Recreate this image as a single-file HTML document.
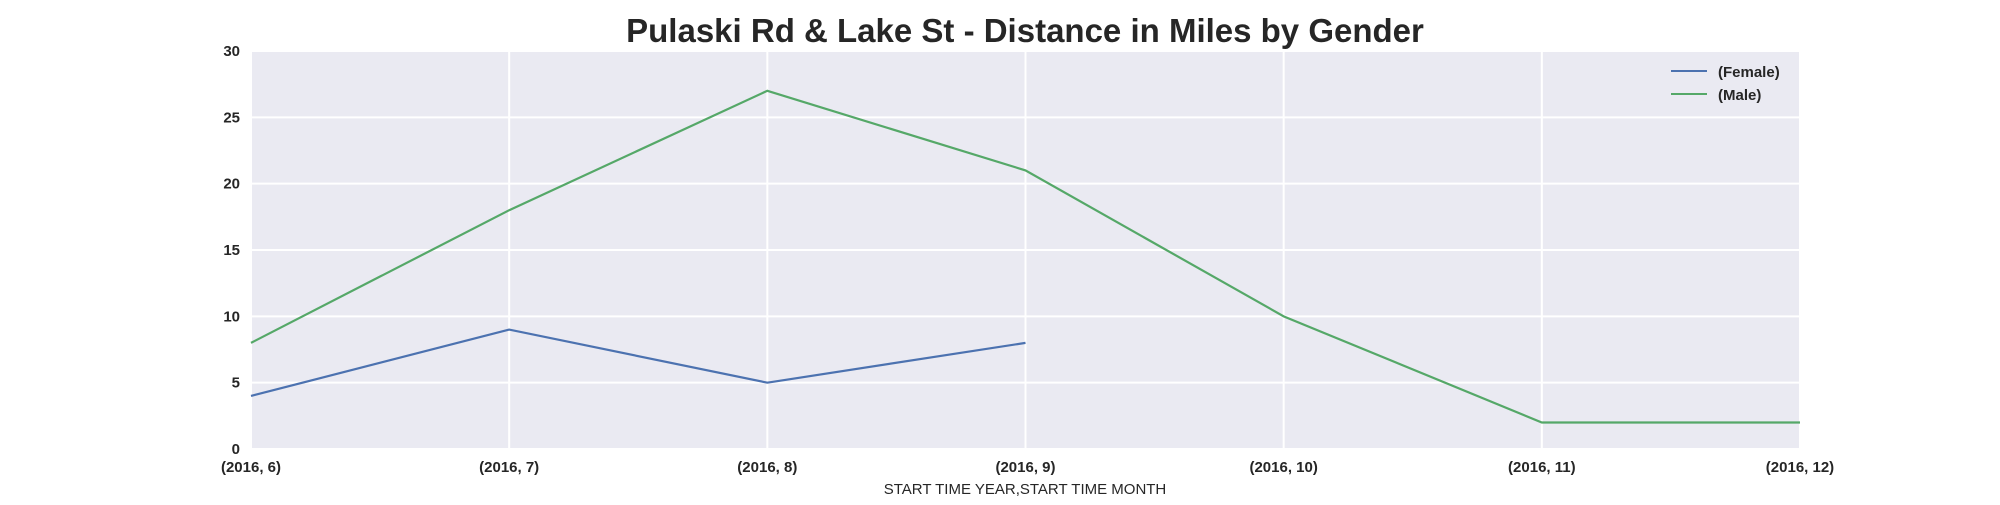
<!DOCTYPE html>
<html><head><meta charset="utf-8"><style>
body{margin:0;background:#fff;width:2000px;height:500px;overflow:hidden}
svg text{font-family:"Liberation Sans",Arial,sans-serif}
</style></head><body>
<svg id="chart" width="2000" height="500">
<text x="1025" y="42" text-anchor="middle" font-size="33" font-weight="bold" fill="#262626">Pulaski Rd &amp; Lake St - Distance in Miles by Gender</text>
<rect x="251" y="51" width="1549" height="398" fill="#eaeaf2"/>
<g id="grid"></g><g id="series"></g><g id="ticks"></g>
<text x="1025" y="494" text-anchor="middle" font-size="15" fill="#262626">START TIME YEAR,START TIME MONTH</text>
<g>
<line x1="1671" y1="71" x2="1707" y2="71" stroke="#4c72b0" stroke-width="2"/>
<text x="1718" y="77" font-size="15" font-weight="bold" fill="#262626">(Female)</text>
<line x1="1671" y1="94" x2="1707" y2="94" stroke="#55a868" stroke-width="2"/>
<text x="1718" y="100" font-size="15" font-weight="bold" fill="#262626">(Male)</text>
</g>
</svg>
<script>
const categories=["(2016, 6)","(2016, 7)","(2016, 8)","(2016, 9)","(2016, 10)","(2016, 11)","(2016, 12)"];
const femaleValues=[4,9,5,8,null,null,null];
const maleValues=[8,18,27,21,10,2,2];
const yTicks=[0,5,10,15,20,25,30];
const NS="http://www.w3.org/2000/svg";
const x0=251,x1=1800,y0=449,y1=51,yMax=30;
const xs=i=>x0+(x1-x0)*i/(categories.length-1);
const ys=v=>y0-(y0-y1)*v/yMax;
function mk(t,a,p){const e=document.createElementNS(NS,t);for(const k in a)e.setAttribute(k,a[k]);p.appendChild(e);return e;}
const grid=document.getElementById('grid'),ticks=document.getElementById('ticks'),series=document.getElementById('series');
yTicks.forEach(v=>{
 const l=mk('line',{x1:x0,x2:x1,y1:ys(v),y2:ys(v),stroke:'#fff','stroke-width':2},grid);
 
 
 const t=mk('text',{x:x0-11,y:ys(v)+5,'text-anchor':'end','font-size':15,'font-weight':'bold',fill:'#262626'},ticks);
 t.textContent=v;
 
 
});
categories.forEach((c,i)=>{
 const l=mk('line',{x1:xs(i),x2:xs(i),y1:y1,y2:y0,stroke:'#fff','stroke-width':2},grid);
 
 
 const t=mk('text',{x:xs(i),y:y0+23,'text-anchor':'middle','font-size':15,'font-weight':'bold',fill:'#262626'},ticks);
 t.textContent=c;
 
 
});
function draw(vals,color,name){
 const pts=[];vals.forEach((v,i)=>{if(v!==null)pts.push(xs(i)+','+ys(v));});
 const p=mk('polyline',{points:pts.join(' '),fill:'none',stroke:color,'stroke-width':2.2},series);
 
 
}
draw(femaleValues,'#4c72b0','female-line');
draw(maleValues,'#55a868','male-line');
</script>
</body></html>
